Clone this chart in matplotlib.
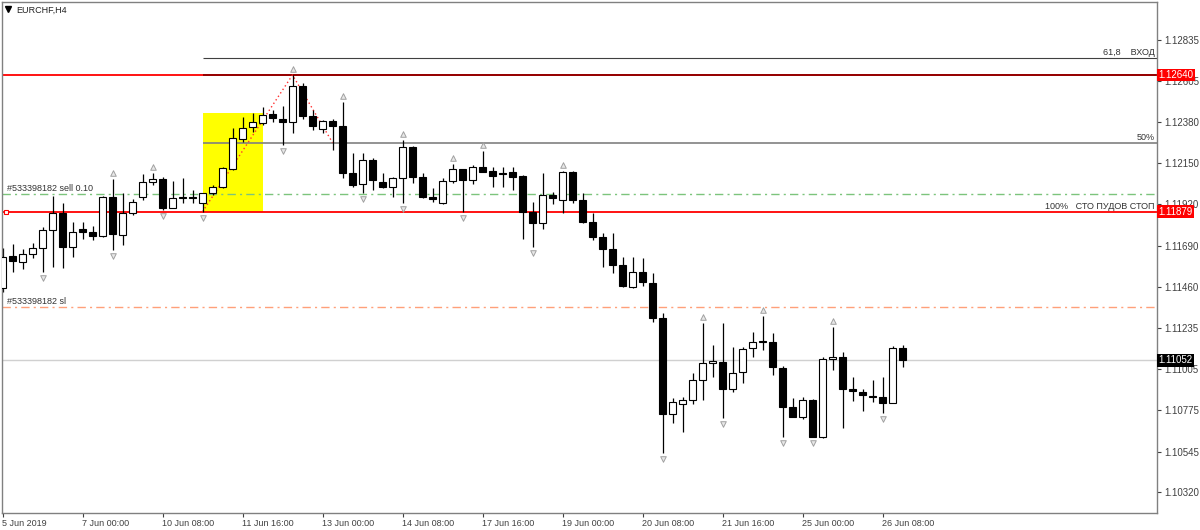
import matplotlib
matplotlib.use("Agg")
import matplotlib.pyplot as plt
from matplotlib.patches import Rectangle
from matplotlib.transforms import blended_transform_factory

plt.rcParams['font.family'] = ['Liberation Sans', 'DejaVu Sans']

# EURCHF H4 candles, 5 Jun 16:00 .. 26 Jun 16:00
opens = [1.11455, 1.11633, 1.11602, 1.11643, 1.11676, 1.11778, 1.11871, 1.11682, 1.11785, 1.11765,
         1.11745, 1.11963, 1.11750, 1.11871, 1.11960, 1.12043, 1.12062, 1.11902, 1.11960, 1.11963,
         1.11930, 1.11982, 1.12015, 1.12117, 1.12284, 1.12349, 1.12372, 1.12422, 1.12395, 1.12377,
         1.12579, 1.12412, 1.12338, 1.12384, 1.12358, 1.12093, 1.12034, 1.12167, 1.12043, 1.12015,
         1.12066, 1.12241, 1.12071, 1.11963, 1.11930, 1.12050, 1.12116, 1.12056, 1.12127, 1.12106,
         1.12093, 1.12099, 1.12078, 1.11880, 1.11815, 1.11973, 1.11945, 1.12102, 1.11945, 1.11821,
         1.11741, 1.11674, 1.11583, 1.11462, 1.11546, 1.11485, 1.11287, 1.10754, 1.10810, 1.10832,
         1.10943, 1.11036, 1.11042, 1.10893, 1.10986, 1.11120, 1.11160, 1.11156, 1.11008, 1.10795,
         1.10739, 1.10832, 1.10624, 1.11060, 1.11070, 1.10892, 1.10875, 1.10856, 1.10847, 1.10817,
         1.11123]
highs = [1.11678, 1.11698, 1.11672, 1.11704, 1.11796, 1.11967, 1.11926, 1.11824, 1.11824, 1.11800,
         1.11967, 1.12060, 1.11982, 1.11949, 1.12090, 1.12097, 1.12073, 1.12050, 1.12067, 1.12000,
         1.11984, 1.12028, 1.12127, 1.12347, 1.12408, 1.12427, 1.12464, 1.12446, 1.12470, 1.12640,
         1.12594, 1.12446, 1.12390, 1.12394, 1.12492, 1.12205, 1.12206, 1.12178, 1.12097, 1.12073,
         1.12279, 1.12245, 1.12097, 1.12013, 1.12066, 1.12145, 1.12116, 1.12140, 1.12219, 1.12127,
         1.12127, 1.12127, 1.12084, 1.11935, 1.12093, 1.11991, 1.12106, 1.12106, 1.11982, 1.11871,
         1.11760, 1.11763, 1.11629, 1.11626, 1.11624, 1.11540, 1.11314, 1.10841, 1.10850, 1.10981,
         1.11259, 1.11138, 1.11259, 1.11129, 1.11129, 1.11212, 1.11299, 1.11203, 1.11021, 1.10841,
         1.10850, 1.10837, 1.11073, 1.11240, 1.11101, 1.10962, 1.10892, 1.10943, 1.10962, 1.11132,
         1.11138]
lows = [1.11433, 1.11546, 1.11561, 1.11620, 1.11546, 1.11574, 1.11565, 1.11629, 1.11726, 1.11722,
        1.11740, 1.11667, 1.11694, 1.11861, 1.11945, 1.12028, 1.11889, 1.11899, 1.11928, 1.11930,
        1.11880, 1.11973, 1.12012, 1.12112, 1.12269, 1.12325, 1.12362, 1.12380, 1.12251, 1.12316,
        1.12395, 1.12334, 1.12319, 1.12223, 1.12066, 1.12015, 1.11982, 1.12000, 1.12012, 1.11963,
        1.11926, 1.12041, 1.11954, 1.11935, 1.11923, 1.12041, 1.11880, 1.12034, 1.12102, 1.12015,
        1.12015, 1.12000, 1.11728, 1.11685, 1.11782, 1.11923, 1.11871, 1.11926, 1.11815, 1.11722,
        1.11574, 1.11537, 1.11462, 1.11454, 1.11468, 1.11268, 1.10535, 1.10702, 1.10656, 1.10810,
        1.10832, 1.10962, 1.10730, 1.10878, 1.10925, 1.11073, 1.11110, 1.10971, 1.10628, 1.10736,
        1.10725, 1.10624, 1.10619, 1.10999, 1.10675, 1.10826, 1.10772, 1.10823, 1.10758, 1.10814,
        1.11017]
closes = [1.11627, 1.11607, 1.11643, 1.11679, 1.11778, 1.11871, 1.11682, 1.11768, 1.11767, 1.11745,
          1.11963, 1.11756, 1.11871, 1.11932, 1.12043, 1.12060, 1.11902, 1.11954, 1.11954, 1.11954,
          1.11982, 1.12019, 1.12121, 1.12288, 1.12347, 1.12377, 1.12418, 1.12399, 1.12379, 1.12579,
          1.12414, 1.12358, 1.12384, 1.12358, 1.12093, 1.12028, 1.12167, 1.12056, 1.12015, 1.12066,
          1.12241, 1.12071, 1.11963, 1.11950, 1.12052, 1.12116, 1.12056, 1.12127, 1.12102, 1.12080,
          1.12090, 1.12074, 1.11880, 1.11815, 1.11973, 1.11954, 1.12102, 1.11945, 1.11821, 1.11741,
          1.11672, 1.11581, 1.11466, 1.11546, 1.11487, 1.11287, 1.10754, 1.10823, 1.10832, 1.10943,
          1.11036, 1.11049, 1.10895, 1.10981, 1.11114, 1.11156, 1.11157, 1.11014, 1.10795, 1.10739,
          1.10832, 1.10628, 1.11060, 1.11073, 1.10892, 1.10882, 1.10860, 1.10847, 1.10817, 1.11120,
          1.11052]

up_fractals = [11, 15, 29, 34, 40, 45, 48, 56, 70, 76, 83]
down_fractals = [4, 11, 16, 20, 28, 36, 40, 46, 53, 66, 72, 78, 81, 88]

price_ticks = [1.12835, 1.12605, 1.12380, 1.12150, 1.11920, 1.11690,
               1.11460, 1.11235, 1.11005, 1.10775, 1.10545, 1.10320]
time_labels = ["5 Jun 2019", "7 Jun 00:00", "10 Jun 08:00", "11 Jun 16:00",
               "13 Jun 00:00", "14 Jun 08:00", "17 Jun 16:00", "19 Jun 00:00",
               "20 Jun 08:00", "21 Jun 16:00", "25 Jun 00:00", "26 Jun 08:00"]
bars_per_label = 8

entry_level = 1.12735
high_level = 1.12640
fib50_level = 1.12264
sell_level = 1.11978
stop_level = 1.11879
sl_level = 1.11349
bid_level = 1.11052
box_start, box_end = 20, 26
box_top = 1.12429
zigzag_bars = [20, 29, 33]
zigzag_prices = [1.11879, 1.12640, 1.12264]

fig = plt.figure(figsize=(12, 5.3), dpi=100)
ax = fig.add_axes([2 / 1200, 1 - 513 / 530, 1155 / 1200, 511 / 530])
ax.set_xlim(-0.05, 115.45)
ax.set_ylim(1.10203, 1.13046)

# yellow zone
ax.add_patch(Rectangle((box_start, stop_level), box_end - box_start, box_top - stop_level,
                       facecolor='#FFFF00', edgecolor='none', zorder=0))

# horizontal levels
ax.axhline(high_level, color='#FF0000', lw=1.3, zorder=1)
ax.hlines(high_level, box_start, 115.45, color='#8B0000', lw=1.3, zorder=1.1)
ax.hlines(entry_level, box_start, 115.45, color='#404040', lw=0.8, zorder=1)
ax.hlines(fib50_level, box_start, 115.45, color='#808080', lw=1.2, zorder=1)
ax.axhline(stop_level, color='#FF0000', lw=1.3, zorder=1)
ax.axhline(sell_level, color='#7CC47C', lw=1, ls=(0, (6, 3, 1.5, 3)), zorder=1)
ax.axhline(sl_level, color='#FFA07A', lw=1, ls=(0, (6, 3, 1.5, 3)), zorder=1)
ax.axhline(bid_level, color='#D0D0D0', lw=1, zorder=1)
ax.plot([0.3], [stop_level], marker='s', ms=3.5, mfc='white', mec='red', mew=0.8,
        clip_on=False, zorder=4)

# zigzag
ax.plot(zigzag_bars, zigzag_prices, color='#FF3030', lw=1, ls=(0, (1, 2)), zorder=1.5)

# candles
x = list(range(len(opens)))
ax.vlines(x, lows, highs, color='black', lw=0.9, zorder=2)
for i in x:
    o, c = opens[i], closes[i]
    face = 'white' if c >= o else 'black'
    ax.bar(i, abs(c - o), bottom=min(o, c), width=0.64, color=face,
           edgecolor='black', linewidth=0.8, zorder=3)

# fractals
off = 0.00033
ax.scatter(up_fractals, [highs[i] + off for i in up_fractals], marker='^', s=16,
           facecolor='#E8E8E8', edgecolor='#A0A0A0', linewidths=0.7, zorder=3)
ax.scatter(down_fractals, [lows[i] - off for i in down_fractals], marker='v', s=16,
           facecolor='#E8E8E8', edgecolor='#A0A0A0', linewidths=0.7, zorder=3)

# texts
fs = 6.5
tr = blended_transform_factory(ax.transAxes, ax.transData)
ax.text(0.998, entry_level + 0.00005, "61,8    ВХОД", transform=tr, ha='right', va='bottom',
        fontsize=fs, color='#333333')
ax.text(0.998, fib50_level + 0.00005, "50%", transform=tr, ha='right', va='bottom',
        fontsize=fs, color='#333333')
ax.text(0.998, stop_level + 0.00005, "100%   СТО ПУДОВ СТОП", transform=tr, ha='right',
        va='bottom', fontsize=fs, color='#333333')
ax.text(0.0045, sell_level + 0.00005, "#533398182 sell 0.10", transform=tr, ha='left',
        va='bottom', fontsize=fs, color='#333333')
ax.text(0.0045, sl_level + 0.00005, "#533398182 sl", transform=tr, ha='left',
        va='bottom', fontsize=fs, color='#333333')
ax.text(0.012, 0.984, "EURCHF,H4", transform=ax.transAxes, ha='left', va='center',
        fontsize=fs, color='#222222')
ax.plot([0.005], [0.986], marker='v', ms=4, color='black', transform=ax.transAxes,
        clip_on=False)

# axes styling
for s in ax.spines.values():
    s.set_color('#808080')
    s.set_linewidth(1)
ax.yaxis.tick_right()
ax.set_yticks(price_ticks)
ax.set_yticklabels([f"{p:.5f}" for p in price_ticks])
ax.tick_params(axis='y', length=3, width=0.8, colors='#404040', labelsize=7, pad=2)
ax.set_xticks([k * bars_per_label for k in range(len(time_labels))])
ax.set_xticklabels(time_labels, ha='left')
ax.tick_params(axis='x', length=3, width=0.8, colors='#404040', labelsize=fs, pad=1)

# price tags
for lvl, bg in [(high_level, '#FF0000'), (stop_level, '#FF0000'), (bid_level, 'black')]:
    ax.text(1.001, lvl, f"{lvl:.5f}", transform=tr, ha='left', va='center', fontsize=7,
            color='white', zorder=5,
            bbox=dict(boxstyle='square,pad=0.15', facecolor=bg, edgecolor='none'))

fig.savefig("out.png", dpi=100)
